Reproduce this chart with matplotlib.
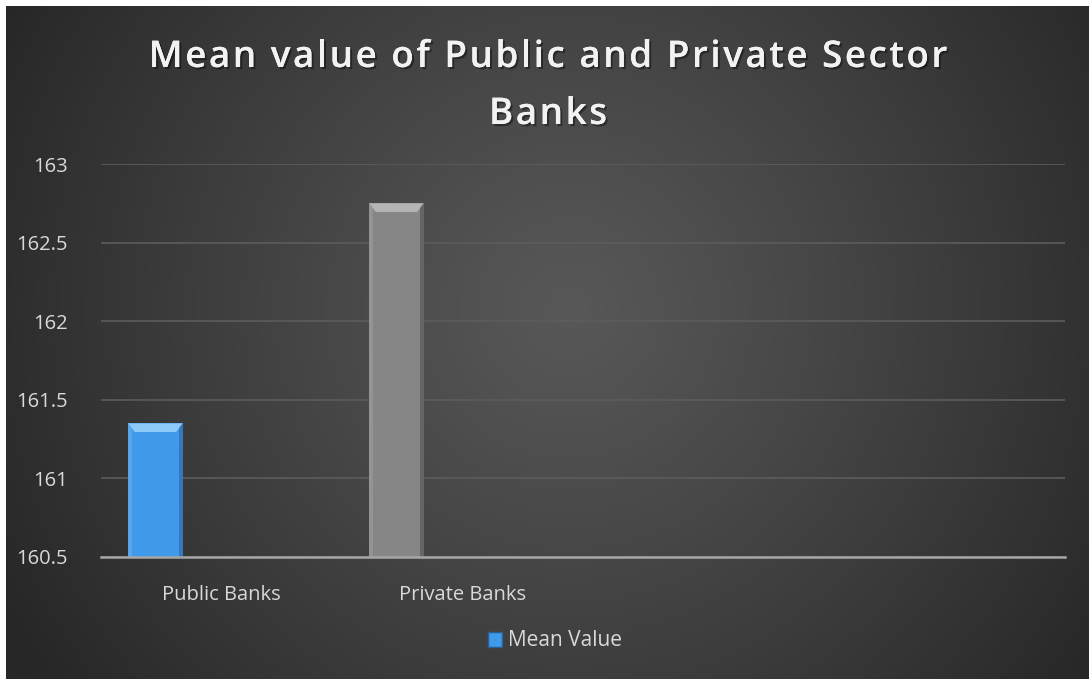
import numpy as np
import matplotlib
matplotlib.use("Agg")
import matplotlib.pyplot as plt
import matplotlib.patheffects as pe
from matplotlib.patches import Polygon, Rectangle
from matplotlib.font_manager import FontProperties

# ---- data ----
categories = ["Public Banks", "Private Banks", "", ""]
mean_values = [161.35, 162.75]
bar_colors = ["#4199ea", "#868686"]
bevel_colors = ["#8cc8f8", "#b5b5b5"]
edge_dark = ["#2a5f95", "#4a4a4a"]
y_ticks = [160.5, 161, 161.5, 162, 162.5, 163]
y_ticklabels = ["160.5", "161", "161.5", "162", "162.5", "163"]
series_name = "Mean Value"
title_lines = ["Mean value of Public and Private Sector", "Banks"]

W, H = 1089, 679
fig = plt.figure(figsize=(W / 100, H / 100), dpi=100)
fig.patch.set_facecolor("white")

# background radial gradient
bg = fig.add_axes([6 / W, 0, 1 - 6 / W, 1 - 6 / H])
bg.set_axis_off()
nx, ny = 540, 340
xx, yy = np.meshgrid(np.linspace(0, 1, nx), np.linspace(0, 1, ny))
cx, cy = 0.52, 0.45
r = np.sqrt(((xx - cx) * 1.6) ** 2 + ((yy - cy) * 1.0) ** 2)
r = np.clip(r / 0.95, 0, 1)
c0, c1 = 0x58, 0x27
val = (c0 + (c1 - c0) * r ** 1.1) / 255.0
img = np.dstack([val, val, val])
bg.imshow(img, extent=[0, 1, 0, 1], aspect="auto", origin="upper", interpolation="bilinear")
bg.set_xlim(0, 1)
bg.set_ylim(0, 1)

# plot axes
ax = fig.add_axes([101 / W, 1 - 557 / H, (1065 - 101) / W, (557 - 164) / H])
ax.patch.set_alpha(0)
x = np.arange(len(categories))
bw = 0.226
off = -0.274
ymin = y_ticks[0]
ax.set_xlim(-0.5, len(categories) - 0.5)
ax.set_ylim(y_ticks[0], y_ticks[-1])

for i, v in enumerate(mean_values):
    xc = x[i] + off
    ax.bar(xc, v - ymin, bottom=ymin, width=bw, color=bar_colors[i], zorder=3, edgecolor="none")
    x0, x1 = xc - bw / 2, xc + bw / 2
    dx = bw * 0.12
    dy = (y_ticks[-1] - y_ticks[0]) * 0.022
    ax.add_patch(Polygon([[x0, v], [x1, v], [x1 - dx, v - dy], [x0 + dx, v - dy]],
                         closed=True, facecolor=bevel_colors[i], edgecolor="none", zorder=4))
    ax.add_patch(Polygon([[x1, v], [x1, ymin], [x1 - dx * 0.5, ymin], [x1 - dx * 0.5, v - dy * 0.5]],
                         closed=True, facecolor=edge_dark[i], edgecolor="none", alpha=0.55, zorder=4))
    ax.add_patch(Polygon([[x0, v], [x0, ymin], [x0 + dx * 0.5, ymin], [x0 + dx * 0.5, v - dy * 0.5]],
                         closed=True, facecolor="white", edgecolor="none", alpha=0.12, zorder=4))

ax.set_yticks(y_ticks)
ax.set_yticklabels(y_ticklabels)
ax.set_xticks(x)
ax.set_xticklabels(categories)
ax.tick_params(axis="y", length=0, pad=24, labelsize=14.5, labelcolor="#d9d9d9")
ax.tick_params(axis="x", length=0, pad=20, labelsize=14.5, labelcolor="#d9d9d9")
for lab in ax.get_xticklabels() + ax.get_yticklabels():
    lab.set_fontfamily("Open Sans")
ax.grid(axis="y", color="#5c5c5c", linewidth=1.2, zorder=1)
ax.grid(axis="x", visible=False)
for s in ["top", "right", "left"]:
    ax.spines[s].set_visible(False)
ax.spines["bottom"].set_color("#a6a6a6")
ax.spines["bottom"].set_linewidth(1.8)
ax.spines["bottom"].set_zorder(5)

# title with letter spacing
renderer = fig.canvas.get_renderer()
fp = FontProperties(family="Open Sans", weight="semibold", size=26.5)
spacing = 2.55  # px between characters
baselines = [67, 124]
shadow = [pe.withSimplePatchShadow(offset=(1.5, -1.5), shadow_rgbFace="black", alpha=0.4), pe.Normal()]


def text_w(s):
    if not s:
        return 0.0
    w1, _, _ = renderer.get_text_width_height_descent(s + "|", fp, ismath=False)
    w2, _, _ = renderer.get_text_width_height_descent("|", fp, ismath=False)
    return w1 - w2


for line, yb in zip(title_lines, baselines):
    total = text_w(line) + spacing * (len(line) - 1)
    xs = 548 - total / 2
    for k, ch in enumerate(line):
        if ch == " ":
            continue
        xp = xs + text_w(line[:k]) + spacing * k
        fig.text(xp / W, 1 - yb / H, ch, ha="left", va="baseline", fontproperties=fp,
                 color="#f2f2f2", path_effects=shadow)

# legend
handle = Rectangle((0, 0), 1, 1, facecolor=bar_colors[0], edgecolor="#2a5f95")
leg = fig.legend([handle], [series_name], loc="center", bbox_to_anchor=(555 / W, 1 - 641 / H),
                 frameon=False, handlelength=0.7, handleheight=0.7, handletextpad=0.3,
                 prop={"family": "Open Sans", "size": 15})
for t in leg.get_texts():
    t.set_color("#d9d9d9")

fig.savefig("out.png", dpi=100, facecolor=fig.get_facecolor())
